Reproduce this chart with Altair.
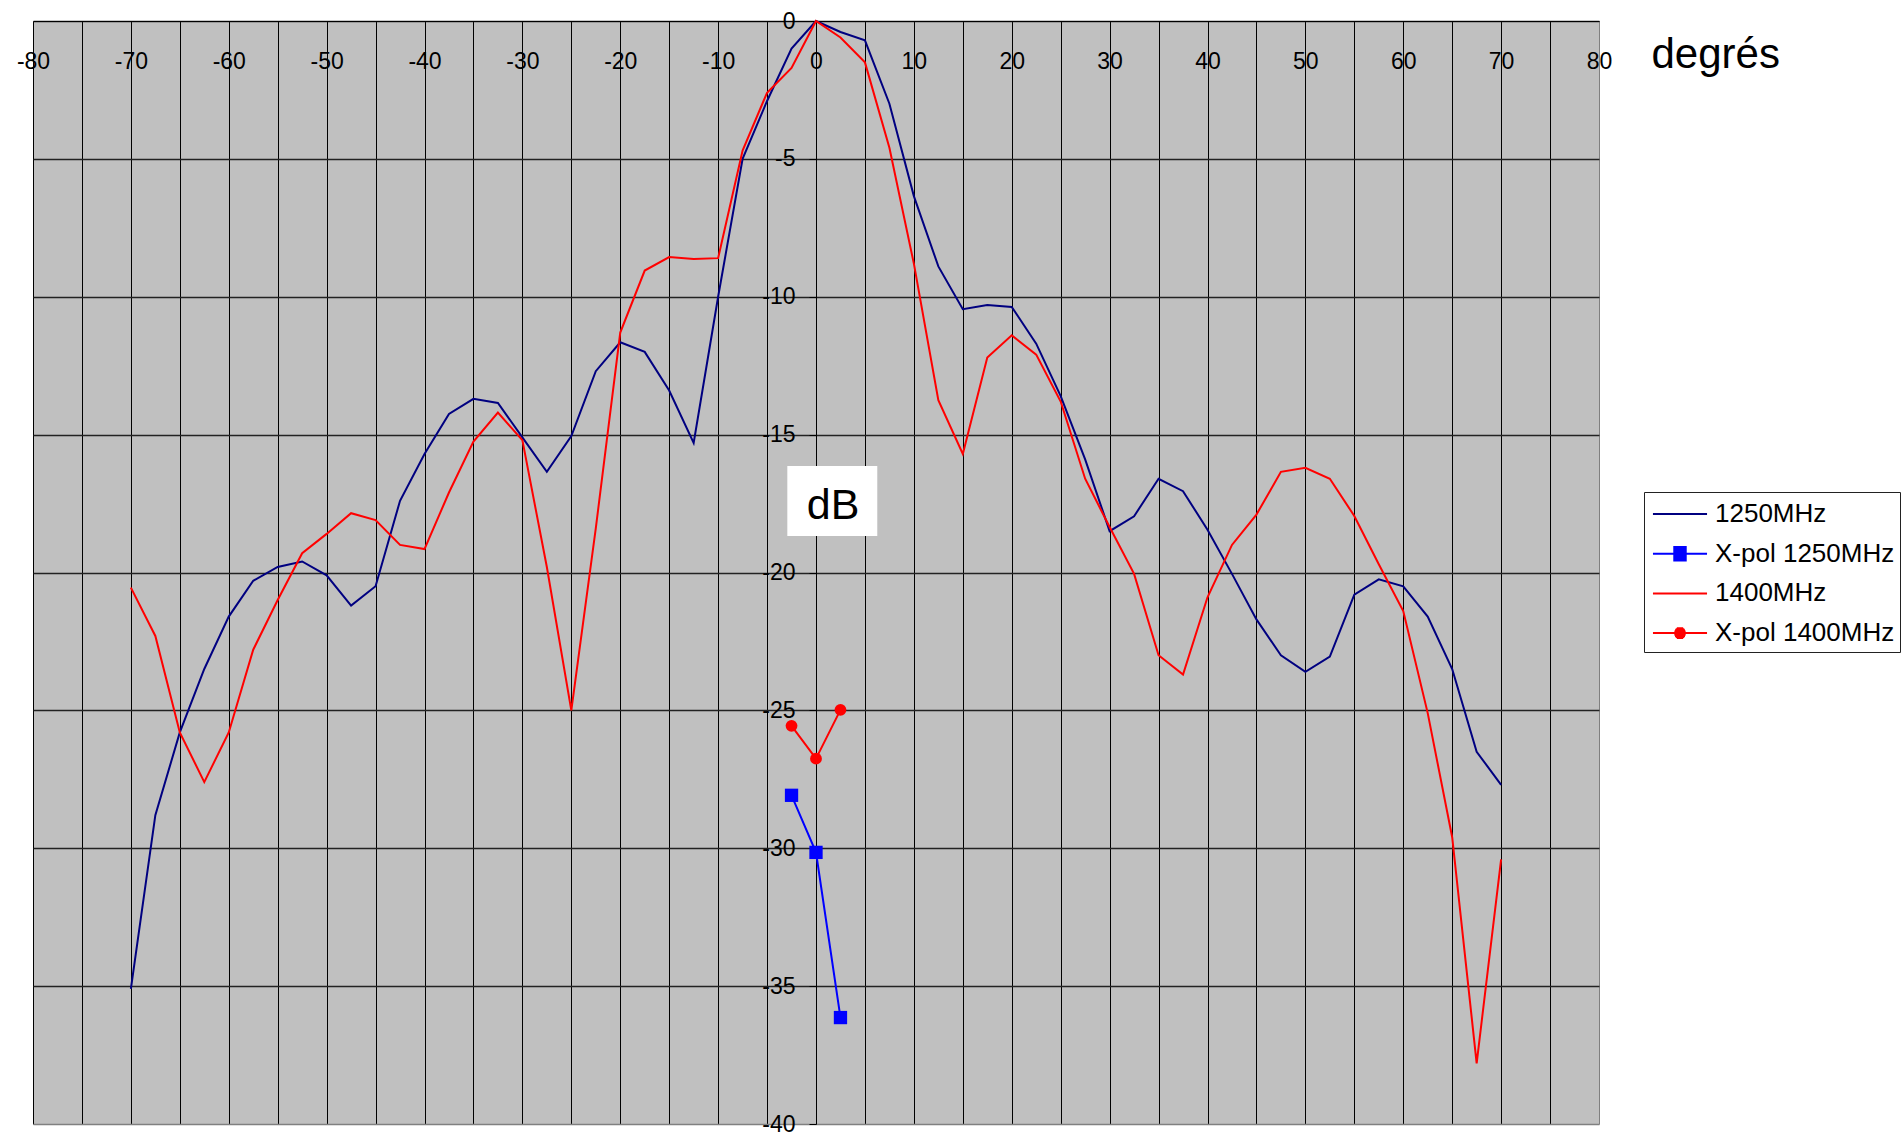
import altair as alt
import pandas as pd

# ---------------- data ----------------
ANGLES = [-70, -67.5, -65, -62.5, -60, -57.5, -55, -52.5, -50, -47.5,
          -45, -42.5, -40, -37.5, -35, -32.5, -30, -27.5, -25, -22.5,
          -20, -17.5, -15, -12.5, -10, -7.5, -5, -2.5, 0, 2.5,
          5, 7.5, 10, 12.5, 15, 17.5, 20, 22.5, 25, 27.5,
          30, 32.5, 35, 37.5, 40, 42.5, 45, 47.5, 50, 52.5,
          55, 57.5, 60, 62.5, 65, 67.5, 70]

DB_1250 = [-35.1, -28.8, -25.8, -23.5, -21.6, -20.3, -19.8, -19.6, -20.1, -21.2,
           -20.5, -17.4, -15.7, -14.25, -13.7, -13.85, -15.1, -16.35, -15.05, -12.7,
           -11.65, -12.0, -13.4, -15.3, -10.0, -5.0, -2.9, -1.0, 0.0, -0.4,
           -0.7, -3.0, -6.35, -8.9, -10.45, -10.3, -10.37, -11.7, -13.6, -15.9,
           -18.5, -17.96, -16.6, -17.05, -18.45, -20.05, -21.7, -23.0, -23.6, -23.05,
           -20.8, -20.25, -20.5, -21.6, -23.5, -26.5, -27.7]

DB_1400 = [-20.55, -22.3, -25.8, -27.6, -25.8, -22.8, -21.0, -19.3, -18.6, -17.85,
           -18.1, -19.0, -19.15, -17.1, -15.25, -14.2, -15.2, -19.8, -25.0, -18.4,
           -11.3, -9.05, -8.56, -8.63, -8.6, -4.7, -2.6, -1.7, 0.0, -0.6,
           -1.5, -4.6, -8.8, -13.75, -15.7, -12.2, -11.4, -12.1, -13.8, -16.6,
           -18.35, -20.05, -23.0, -23.7, -20.9, -19.0, -17.9, -16.35, -16.2, -16.6,
           -17.95, -19.7, -21.4, -25.1, -29.6, -37.8, -30.4]

XPOL_ANGLES = [-2.5, 0, 2.5]
XPOL_1250 = [-28.08, -30.15, -36.14]
XPOL_1400 = [-25.56, -26.75, -24.98]

SERIES = ["1250MHz", "X-pol 1250MHz", "1400MHz", "X-pol 1400MHz"]
COLORS = ["#000080", "#0000FF", "#FF0000", "#FF0000"]

X_TICKS = [-80, -75, -70, -65, -60, -55, -50, -45, -40, -35, -30, -25, -20, -15, -10, -5,
           0, 5, 10, 15, 20, 25, 30, 35, 40, 45, 50, 55, 60, 65, 70, 75, 80]
Y_TICKS = [-40, -35, -30, -25, -20, -15, -10, -5, 0]

X_TITLE = "degrés"
DB_LABEL = {"label": "dB", "x": 1.74, "y": -18.05,
            "x0": -2.93, "x1": 6.26, "y0": -16.14, "y1": -18.68}

# ---------------- layout ----------------
W, H = 1566, 1103
PAD_L, PAD_T = 33, 21
FONT = "Liberation Sans"


def frame(angles, values, name):
    return pd.DataFrame({"angle": angles, "db": values, "series": name})


df_1250 = frame(ANGLES, DB_1250, SERIES[0])
df_x1250 = frame(XPOL_ANGLES, XPOL_1250, SERIES[1])
df_1400 = frame(ANGLES, DB_1400, SERIES[2])
df_x1400 = frame(XPOL_ANGLES, XPOL_1400, SERIES[3])
df_lab = pd.DataFrame([DB_LABEL])

x_scale = alt.Scale(domain=[-80, 80], nice=False, zero=False)
y_scale = alt.Scale(domain=[-40, 0], nice=False, zero=False)

x_axis = alt.Axis(
    values=X_TICKS,
    labelExpr="datum.value % 10 === 0 ? '' + datum.value : ''",
    orient="bottom", offset=-H,
    tickSize=0, labelPadding=29, labelFlush=False, labelOverlap=False,
    labelFont=FONT, labelFontSize=23, labelColor="black",
    domain=True, domainColor="black", domainWidth=1,
    grid=True, gridWidth=1, gridOpacity=1,
    gridColor={"condition": {"test": "datum.value === 80", "value": "#808080"}, "value": "#000000"},
    title=X_TITLE, titleX=1651 - PAD_L, titleY=46, titleAlign="left",
    titleBaseline="alphabetic", titleFont=FONT, titleFontSize=42,
    titleFontWeight="normal", titleColor="black",
)

y_axis = alt.Axis(
    values=Y_TICKS, labelExpr="'' + datum.value",
    orient="left", offset=-(W // 2),
    tickSize=7, tickColor="black", tickWidth=1,
    labelPadding=14, labelFlush=False, labelOverlap=False,
    labelFont=FONT, labelFontSize=23, labelColor="black",
    domain=True, domainColor="black", domainWidth=1,
    grid=True, gridWidth=1.5, gridOpacity=1,
    gridColor={"condition": {"test": "datum.value === -40", "value": "#808080"}, "value": "#222222"},
    title=None,
)

# legend symbols: a horizontal stroke, plus a marker drawn as dense strokes
LINE_SYM = "M-1.69,0H1.69"
SQ_SYM = LINE_SYM + "".join(
    "M-0.42,%.2fH0.42" % (v / 100) for v in range(-42, 43, 7))
CI_SYM = LINE_SYM + "".join(
    "M%.3f,%.2fH%.3f" % (-((0.36 ** 2 - (v / 100) ** 2) ** 0.5), v / 100,
                          ((0.36 ** 2 - (v / 100) ** 2) ** 0.5))
    for v in range(-30, 31, 6))

shape_expr = ("datum.value === 'X-pol 1250MHz' ? '" + SQ_SYM + "' : "
              "(datum.value === 'X-pol 1400MHz' ? '" + CI_SYM + "' : '" + LINE_SYM + "')")

legend = alt.Legend(
    title=None, orient="none", legendX=1644 - PAD_L, legendY=492 - PAD_T,
    labelFont=FONT, labelFontSize=26, labelColor="black", labelLimit=400,
    symbolSize=1024, symbolStrokeWidth=2, symbolOffset=14, labelOffset=18,
    symbolType=alt.expr(shape_expr),
    rowPadding=9.7, padding=5, strokeColor="#222222", fillColor="white",
)

color_enc = alt.Color("series:N", scale=alt.Scale(domain=SERIES, range=COLORS), legend=legend)
x_enc = alt.X("angle:Q", scale=x_scale, axis=x_axis)
y_enc = alt.Y("db:Q", scale=y_scale, axis=y_axis)

box = alt.Chart(df_lab).mark_rect(color="white").encode(
    x=alt.X("x0:Q", scale=x_scale, axis=x_axis), x2="x1:Q",
    y=alt.Y("y0:Q", scale=y_scale, axis=y_axis), y2="y1:Q",
)
label = alt.Chart(df_lab).mark_text(font=FONT, fontSize=43, color="black",
                                    align="center", baseline="alphabetic").encode(
    x=alt.X("x:Q", scale=x_scale, axis=x_axis),
    y=alt.Y("y:Q", scale=y_scale, axis=y_axis),
    text="label:N",
)


def line(df):
    return alt.Chart(df).mark_line(strokeWidth=2).encode(x=x_enc, y=y_enc, color=color_enc)


def points(df, shape, size):
    return alt.Chart(df).mark_point(shape=shape, size=size, filled=True, opacity=1).encode(
        x=x_enc, y=y_enc, color=color_enc)


chart = alt.layer(
    box, label,
    line(df_1250),
    line(df_x1250), points(df_x1250, "square", 177),
    line(df_1400),
    line(df_x1400), points(df_x1400, "circle", 140),
).properties(
    width=W, height=H,
    autosize=alt.AutoSizeParams(type="none"),
    padding={"left": PAD_L, "top": PAD_T, "right": 1902 - PAD_L - W, "bottom": 1133 - PAD_T - H},
    background="white",
).configure_view(fill="#C0C0C0", stroke="transparent")

chart.save("out.html", embed_options={"renderer": "svg", "actions": False})
